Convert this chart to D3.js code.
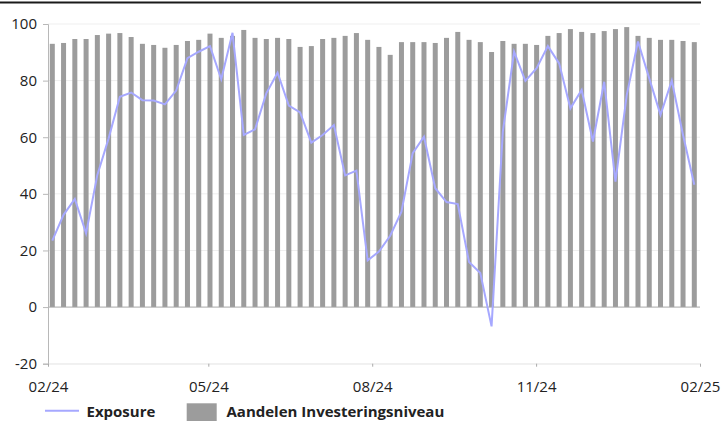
<!DOCTYPE html>
<html>
<head>
<meta charset="utf-8">
<script src="https://cdn.jsdelivr.net/npm/d3@7"></script>
<style>
  html, body { margin: 0; padding: 0; background: #fff; }
  svg { display: block; font-family: "Open Sans", "Noto Sans", sans-serif; }
</style>
</head>
<body>
<svg id="chart" width="724" height="421"></svg>
<script>
// Weekly observations, Feb 2024 – Jan 2025
const exposure = [
  23.5, 32.6, 38.2, 26.1, 46.7, 59.6, 74.3, 75.8, 73.1, 73.0,
  71.6, 76.5, 87.9, 90.2, 92.2, 80.5, 96.9, 60.8, 62.8, 75.5,
  82.8, 71.2, 68.8, 58.1, 60.8, 64.3, 46.5, 48.2, 16.5, 19.6,
  25.2, 33.7, 54.4, 60.2, 42.0, 37.1, 36.4, 15.9, 12.0, -6.8,
  62.0, 90.2, 79.9, 84.4, 92.2, 86.1, 70.2, 76.7, 58.5, 79.6,
  44.3, 74.9, 93.8, 80.8, 67.9, 80.0, 60.8, 43.2
];
const investeringsniveau = [
  93.0, 93.3, 94.7, 94.7, 96.1, 96.6, 96.8, 95.4, 93.0, 92.6,
  91.6, 92.6, 94.0, 94.4, 96.6, 95.1, 95.8, 97.9, 95.1, 94.7,
  95.1, 94.7, 91.9, 92.2, 94.7, 95.1, 95.8, 96.8, 94.4, 91.9,
  89.1, 93.6, 93.6, 93.6, 93.3, 95.1, 97.2, 94.4, 93.6, 90.1,
  94.0, 93.0, 93.0, 92.6, 95.8, 96.8, 98.2, 97.2, 96.8, 97.5,
  98.2, 98.9, 95.8, 95.1, 94.4, 94.4, 94.0, 93.6
];
const weeks = exposure.map((_, i) => i);
const xTickLabels = ["02/24", "05/24", "08/24", "11/24", "02/25"];
const yTicks = [-20, 0, 20, 40, 60, 80, 100];
const seriesNames = ["Exposure", "Aandelen Investeringsniveau"];

const svg = d3.select("#chart");
const plot = { left: 48, right: 700, top: 24, bottom: 363.7 };

const y = d3.scaleLinear().domain([-20, 100]).range([plot.bottom, plot.top]);
const x = d3.scalePoint().domain(weeks).range([52.3, 694.3]);
const parseMonth = d3.timeParse("%m/%y");
const xTime = d3.scaleTime()
  .domain([parseMonth(xTickLabels[0]), parseMonth(xTickLabels[xTickLabels.length - 1])])
  .range([plot.left, plot.right]);

// heading rule
svg.append("line")
  .attr("x1", 0).attr("x2", 701).attr("y1", 2.5).attr("y2", 2.5)
  .attr("stroke", "#1a1a1a").attr("stroke-width", 2);

// horizontal gridlines
svg.append("g").selectAll("line")
  .data(yTicks.filter(d => d !== 0))
  .join("line")
  .attr("x1", plot.left).attr("x2", plot.right)
  .attr("y1", d => y(d)).attr("y2", d => y(d))
  .attr("stroke", "#efefef").attr("stroke-width", 1);

// bars
svg.append("g").selectAll("rect")
  .data(investeringsniveau)
  .join("rect")
  .attr("x", (d, i) => x(weeks[i]) - 2.5)
  .attr("width", 5)
  .attr("y", d => y(d))
  .attr("height", d => y(0) - y(d))
  .attr("fill", "#9c9c9c");

// zero line
svg.append("line")
  .attr("x1", plot.left).attr("x2", plot.right)
  .attr("y1", y(0)).attr("y2", y(0))
  .attr("stroke", "#a8a8a8").attr("stroke-width", 1);

// exposure line
svg.append("path")
  .datum(exposure)
  .attr("fill", "none")
  .attr("stroke", "#a6a8ff")
  .attr("stroke-width", 2)
  .attr("stroke-linejoin", "miter")
  .attr("d", d3.line().x((d, i) => x(weeks[i])).y(d => y(d)));

// y axis
const yAxis = svg.append("g")
  .attr("transform", `translate(${plot.left},0)`)
  .call(d3.axisLeft(y).tickValues(yTicks).tickFormat(d => String(d)).tickSize(5).tickPadding(6));
yAxis.select(".domain").attr("stroke", "#b8b8b8");
yAxis.selectAll(".tick line").attr("stroke", "#b8b8b8");
yAxis.selectAll(".tick text")
  .attr("fill", "#222").style("font-size", "15px")
  .style("font-family", "'Open Sans', 'Noto Sans', sans-serif");

// x axis
const xAxis = svg.append("g")
  .attr("transform", `translate(0,${plot.bottom})`)
  .call(d3.axisBottom(xTime)
    .tickValues(xTickLabels.map(parseMonth))
    .tickFormat(d3.timeFormat("%m/%y"))
    .tickSize(3).tickPadding(15));
xAxis.select(".domain").attr("stroke", "#ececec");
xAxis.selectAll(".tick line").attr("stroke", "#aaa");
xAxis.selectAll(".tick text")
  .attr("fill", "#222").style("font-size", "15px")
  .style("font-family", "'Open Sans', 'Noto Sans', sans-serif");

// legend
const legend = svg.append("g").style("font-weight", "bold").style("font-size", "15px").attr("fill", "#222");
legend.append("line")
  .attr("x1", 45).attr("x2", 79).attr("y1", 410.7).attr("y2", 410.7)
  .attr("stroke", "#a6a8ff").attr("stroke-width", 2);
legend.append("text").attr("x", 86.5).attr("y", 416.5).text(seriesNames[0]);
legend.append("rect")
  .attr("x", 186.7).attr("y", 403.3).attr("width", 30).attr("height", 20)
  .attr("fill", "#9c9c9c");
legend.append("text").attr("x", 226.5).attr("y", 416.5).text(seriesNames[1]);
</script>
</body>
</html>
